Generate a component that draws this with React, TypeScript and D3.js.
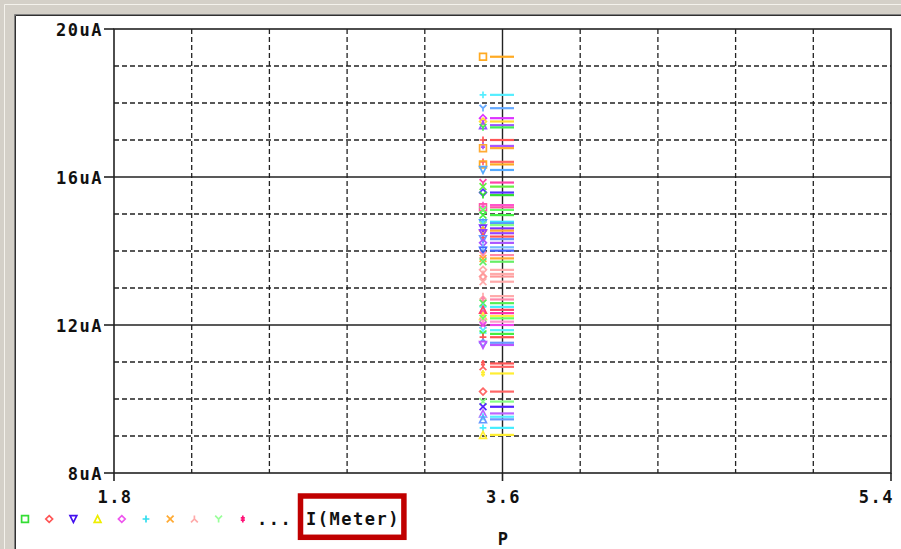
import React from "react";
import * as d3 from "d3";

// ---- data ----
const xDomain = [1.8, 5.4];
const yDomain = [8, 20];
const xMajorTicks = [1.8, 3.6, 5.4];
const xMajorLabels = ["1.8", "3.6", "5.4"];
const yMajorTicks = [8, 12, 16, 20];
const yMajorLabels = ["8uA", "12uA", "16uA", "20uA"];
const xMinorStep = 0.36;
const yMinorStep = 1;
const paramValue = 3.6;
const xTitle = "P";
const legendLabel = "I(Meter)";

const currents = [
  19.25, 18.22, 17.86, 17.59, 17.5, 17.4, 17.34, 17.0, 16.84, 16.78,
  16.41, 16.34, 16.19, 15.85, 15.74, 15.58, 15.51, 15.24, 15.18, 15.11,
  14.97, 14.79, 14.75, 14.7, 14.61, 14.55, 14.48, 14.39, 14.32, 14.22,
  14.1, 14.01, 13.89, 13.8, 13.71, 13.49, 13.38, 13.31, 13.17, 12.78,
  12.69, 12.59, 12.49, 12.41, 12.32, 12.24, 12.18, 12.09, 12.0, 11.86,
  11.76, 11.67, 11.52, 11.46, 10.96, 10.87, 10.69, 10.2, 9.93, 9.79,
  9.61, 9.52, 9.45, 9.22, 9.03,
];
const traceColors = [
  "#ffaa22", "#55eeff", "#66aaff", "#dd33ff", "#ffdd33", "#9955ff", "#44ee55", "#ff5555", "#aa55ff", "#ffaa33",
  "#ff6666", "#ffaa22", "#55aaff", "#ff44aa", "#66ee44", "#5533ff", "#33dd33", "#ff55cc", "#ff55aa", "#66ff66",
  "#44ee44", "#44ddff", "#5599ff", "#88ff88", "#7733ff", "#ffaa33", "#9944ff", "#ff5555", "#6699ff", "#aa55ff",
  "#77bbff", "#4466ff", "#ff88aa", "#ffaa33", "#66ee66", "#ffaaaa", "#ffaaaa", "#ff9999", "#ffaaaa", "#ffaaaa",
  "#ff88aa", "#55ee55", "#44eeff", "#ff4466", "#ff33aa", "#ffee44", "#66ff66", "#ff99cc", "#ee44ee", "#55eeff",
  "#44ee44", "#ff5555", "#6699ff", "#bb55ff", "#ff5555", "#ff6666", "#ffee33", "#ff6666", "#88ff88", "#5522ff",
  "#bb66ff", "#55eeff", "#6699ff", "#44eeff", "#ffee33",
];
const traceMarkers = [
  "square", "plus", "Y", "diamond", "diamond", "up", "Y", "plus", "ddag", "square",
  "plus", "square", "down", "Y", "x", "diamond", "Y", "ddag", "square", "x",
  "x", "plus", "down", "Y", "down", "diamond", "down", "ddag", "down", "diamond",
  "plus", "down", "x", "x", "x", "diamond", "lambda", "diamond", "x", "lambda",
  "ddag", "x", "plus", "up", "ddag", "up", "x", "x", "x", "x",
  "Y", "plus", "diamond", "down", "ddag", "lambda", "ddag", "diamond", "x", "x",
  "up", "plus", "up", "plus", "up",
];

const legendMarkers = ["square", "diamond", "down", "up", "diamond", "plus", "x", "lambda", "Y", "ddag"];
const legendColors = ["#33dd33", "#ff5555", "#4411ee", "#eeee00", "#ee55ee", "#33ddee", "#ffaa33", "#ffaaaa", "#99ff99", "#ff1177"];

// ---- layout ----
const W = 901;
const H = 549;
const M = { left: 114, right: 891, top: 29, bottom: 473 };
const FONT = "'DejaVu Sans Mono', monospace";

function markerPath(type: string, cx: number, cy: number, s: number): string {
  const p = d3.path();
  switch (type) {
    case "square":
      p.rect(cx - s, cy - s, 2 * s, 2 * s);
      break;
    case "diamond":
      p.moveTo(cx, cy - s); p.lineTo(cx + s, cy); p.lineTo(cx, cy + s); p.lineTo(cx - s, cy); p.closePath();
      break;
    case "down":
      p.moveTo(cx - s, cy - s); p.lineTo(cx + s, cy - s); p.lineTo(cx, cy + s); p.closePath();
      break;
    case "up":
      p.moveTo(cx - s, cy + s); p.lineTo(cx + s, cy + s); p.lineTo(cx, cy - s); p.closePath();
      break;
    case "plus":
      p.moveTo(cx - s, cy); p.lineTo(cx + s, cy); p.moveTo(cx, cy - s); p.lineTo(cx, cy + s);
      break;
    case "x":
      p.moveTo(cx - s, cy - s); p.lineTo(cx + s, cy + s); p.moveTo(cx + s, cy - s); p.lineTo(cx - s, cy + s);
      break;
    case "lambda":
      p.moveTo(cx, cy - s); p.lineTo(cx, cy); p.lineTo(cx - s, cy + s); p.moveTo(cx, cy); p.lineTo(cx + s, cy + s);
      break;
    case "Y":
      p.moveTo(cx - s, cy - s); p.lineTo(cx, cy); p.lineTo(cx + s, cy - s); p.moveTo(cx, cy); p.lineTo(cx, cy + s);
      break;
    case "ddag":
      p.moveTo(cx, cy - s); p.lineTo(cx, cy + s);
      p.moveTo(cx - s * 0.6, cy - s * 0.35); p.lineTo(cx + s * 0.6, cy - s * 0.35);
      p.moveTo(cx - s * 0.6, cy + s * 0.35); p.lineTo(cx + s * 0.6, cy + s * 0.35);
      break;
  }
  return p.toString();
}

export default function App() {
  const x = d3.scaleLinear().domain(xDomain).range([M.left, M.right]);
  const y = d3.scaleLinear().domain(yDomain).range([M.bottom, M.top]);

  const xMinor = d3.range(xDomain[0] + xMinorStep, xDomain[1] - 1e-6, xMinorStep).filter(
    (v) => !xMajorTicks.some((t) => Math.abs(t - v) < 1e-6)
  );
  const yMinor = d3.range(yDomain[0] + yMinorStep, yDomain[1] - 1e-6, yMinorStep).filter(
    (v) => !yMajorTicks.some((t) => Math.abs(t - v) < 1e-6)
  );

  const px = x(paramValue);

  return (
    <svg
      width={W}
      height={H}
      style={{ position: "fixed", left: 0, top: 0, display: "block" }}
    >
      {/* window frame */}
      <rect x={0} y={0} width={W} height={H} fill="#ffffff" />
      <rect x={0} y={0} width={W} height={15} fill="#d4d0c8" />
      <rect x={0} y={0} width={15} height={H} fill="#d4d0c8" />
      <line x1={4.5} y1={4.5} x2={W} y2={4.5} stroke="#f4f2ec" strokeWidth={1} />
      <line x1={4.5} y1={4.5} x2={4.5} y2={H} stroke="#f4f2ec" strokeWidth={1} />
      <line x1={14.5} y1={14.5} x2={W} y2={14.5} stroke="#808080" strokeWidth={1} />
      <line x1={14.5} y1={14.5} x2={14.5} y2={H} stroke="#808080" strokeWidth={1} />
      <line x1={15.5} y1={15.5} x2={W} y2={15.5} stroke="#303030" strokeWidth={1} />
      <line x1={15.5} y1={15.5} x2={15.5} y2={H} stroke="#303030" strokeWidth={1} />

      {/* dashed minor grid */}
      <g stroke="#222" strokeWidth={1.3} strokeDasharray="5 3">
        {xMinor.map((v, i) => (
          <line key={"xm" + i} x1={x(v)} x2={x(v)} y1={M.top} y2={M.bottom} />
        ))}
        {yMinor.map((v, i) => (
          <line key={"ym" + i} x1={M.left} x2={M.right} y1={y(v)} y2={y(v)} />
        ))}
      </g>

      {/* solid major grid */}
      <g stroke="#222" strokeWidth={1.4}>
        {xMajorTicks.slice(1, -1).map((v, i) => (
          <line key={"xM" + i} x1={x(v)} x2={x(v)} y1={M.top} y2={M.bottom} />
        ))}
        {yMajorTicks.slice(1, -1).map((v, i) => (
          <line key={"yM" + i} x1={M.left} x2={M.right} y1={y(v)} y2={y(v)} />
        ))}
      </g>

      {/* traces */}
      <g>
        {currents.map((v, i) => (
          <g key={"t" + i}>
            <line
              x1={px - 12.5}
              x2={px + 11.5}
              y1={y(v)}
              y2={y(v)}
              stroke={traceColors[i % traceColors.length]}
              strokeWidth={2.2}
            />
            <path
              d={markerPath(traceMarkers[i % traceMarkers.length], px - 19.5, y(v), 3.4)}
              fill="none"
              stroke={traceColors[i % traceColors.length]}
              strokeWidth={1.7}
            />
          </g>
        ))}
      </g>

      {/* plot border */}
      <rect
        x={M.left}
        y={M.top}
        width={M.right - M.left}
        height={M.bottom - M.top}
        fill="none"
        stroke="#222"
        strokeWidth={1.6}
      />

      {/* ticks and labels */}
      <g fontFamily={FONT} fontWeight="bold" fontSize={17} letterSpacing={1.5} fill="#111">
        {yMajorTicks.map((v, i) => (
          <g key={"yt" + i}>
            <line x1={M.left - 10} x2={M.left} y1={y(v)} y2={y(v)} stroke="#222" strokeWidth={1.6} />
            <text x={M.left - 11} y={y(v) + 6.5} textAnchor="end">
              {yMajorLabels[i]}
            </text>
          </g>
        ))}
        {xMajorTicks.map((v, i) => (
          <g key={"xt" + i}>
            <line x1={x(v)} x2={x(v)} y1={M.bottom} y2={M.bottom + 8} stroke="#222" strokeWidth={1.6} />
            <text
              x={i === xMajorTicks.length - 1 ? x(v) + 3 : x(v) + 1}
              y={503}
              textAnchor={i === xMajorTicks.length - 1 ? "end" : "middle"}
            >
              {xMajorLabels[i]}
            </text>
          </g>
        ))}
        <text x={x(paramValue) + 1} y={545} textAnchor="middle">
          {xTitle}
        </text>

        {/* legend */}
        {legendMarkers.map((m, i) => (
          <path
            key={"lm" + i}
            d={markerPath(m, 25 + i * 24.2, 519, 3.4)}
            fill="none"
            stroke={legendColors[i]}
            strokeWidth={1.7}
          />
        ))}
        <text x={257} y={525}>...</text>
        <text x={306} y={525}>{legendLabel}</text>
      </g>
      <rect x={300.5} y={496} width={103.4} height={41.3} fill="none" stroke="#c00000" strokeWidth={5.5} />
    </svg>
  );
}
